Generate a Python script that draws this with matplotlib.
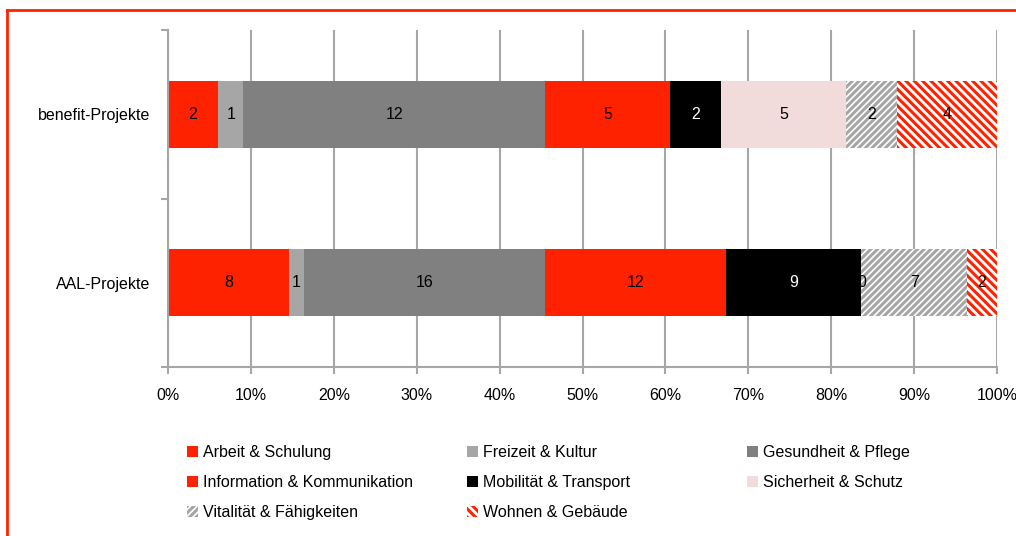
import matplotlib
matplotlib.use("Agg")
import matplotlib.pyplot as plt
from matplotlib.patches import Patch
from matplotlib.lines import Line2D

plt.rcParams['font.family'] = ['Liberation Sans', 'DejaVu Sans']
plt.rcParams['hatch.linewidth'] = 2.2

# Daten
projects = ['AAL-Projekte', 'benefit-Projekte']
categories = ['Arbeit & Schulung', 'Freizeit & Kultur', 'Gesundheit & Pflege',
              'Information & Kommunikation', 'Mobilität & Transport',
              'Sicherheit & Schutz', 'Vitalität & Fähigkeiten', 'Wohnen & Gebäude']
aal = [8, 1, 16, 12, 9, 0, 7, 2]
benefit = [2, 1, 12, 5, 2, 5, 2, 4]
xticks = [0, 10, 20, 30, 40, 50, 60, 70, 80, 90, 100]

red = '#ff2200'
gray = '#a6a6a6'
colors = [red, gray, '#808080', red, '#000000', '#f2dcdb', 'white', 'white']
hatches = [None, None, None, None, None, None, '/////', '\\\\\\\\']
hcolors = [red, gray, '#808080', red, '#000000', '#f2dcdb', gray, red]
textcolors = ['black', 'black', 'black', 'black', 'white', 'black', 'black', 'black']
fs = 11.5

fig = plt.figure(figsize=(10.16, 5.36), dpi=100)
ax = fig.add_axes([168 / 1016, 1 - 367 / 536, 829 / 1016, 337 / 536])

rows = [aal, benefit]
for yi, vals in enumerate(rows):
    total = sum(vals)
    left = 0.0
    for i, v in enumerate(vals):
        w = v / total * 100
        ax.barh(yi, w, left=left, height=0.4, color=colors[i],
                edgecolor=hcolors[i], linewidth=0, hatch=hatches[i], zorder=2)
        ax.text(left + w / 2, yi, str(v), ha='center', va='center',
                fontsize=fs, color=textcolors[i], zorder=3)
        left += w

ax.set_xlim(0, 100)
ax.set_ylim(-0.5, 1.5)
ax.set_xticks(xticks)
ax.set_xticklabels([f'{t}%' for t in xticks], fontsize=fs)
ax.set_yticks([0, 1])
ax.set_yticklabels(projects, fontsize=fs)
ax.set_yticks([-0.5, 0.5, 1.5], minor=True)
ax.tick_params(axis='y', which='major', length=0, pad=13)
ax.tick_params(axis='y', which='minor', length=5, color='#a6a6a6', width=1.5)
ax.tick_params(axis='x', length=5, color='#a6a6a6', width=1.5, pad=10)
ax.grid(axis='x', color='#a6a6a6', linewidth=1.5, zorder=0)
ax.set_axisbelow(True)
for s in ['top', 'right']:
    ax.spines[s].set_visible(False)
for s in ['left', 'bottom']:
    ax.spines[s].set_color('#a6a6a6')
    ax.spines[s].set_linewidth(1.5)

# Legende in drei Spalten
handles = [Patch(facecolor=colors[i], edgecolor=hcolors[i], linewidth=0,
                 hatch=hatches[i]) for i in range(len(categories))]
cols = [[0, 3, 6], [1, 4, 7], [2, 5]]
xs = [187, 467, 747]
for c, idx in enumerate(cols):
    leg = fig.legend([handles[i] for i in idx], [categories[i] for i in idx],
                     loc='upper left', bbox_to_anchor=(xs[c] / 1016, 1 - 445 / 536),
                     frameon=False, fontsize=fs, handlelength=0.7, handleheight=0.7,
                     handletextpad=0.3, labelspacing=0.95, borderpad=0, borderaxespad=0)

# roter Rahmen
fig.add_artist(Line2D([7 / 1016, 7 / 1016], [0, 1 - 10 / 536], color=red,
                      linewidth=2, transform=fig.transFigure))
fig.add_artist(Line2D([7 / 1016, 1], [1 - 10 / 536, 1 - 10 / 536], color=red,
                      linewidth=2, transform=fig.transFigure))

fig.savefig('out.png', dpi=100)
